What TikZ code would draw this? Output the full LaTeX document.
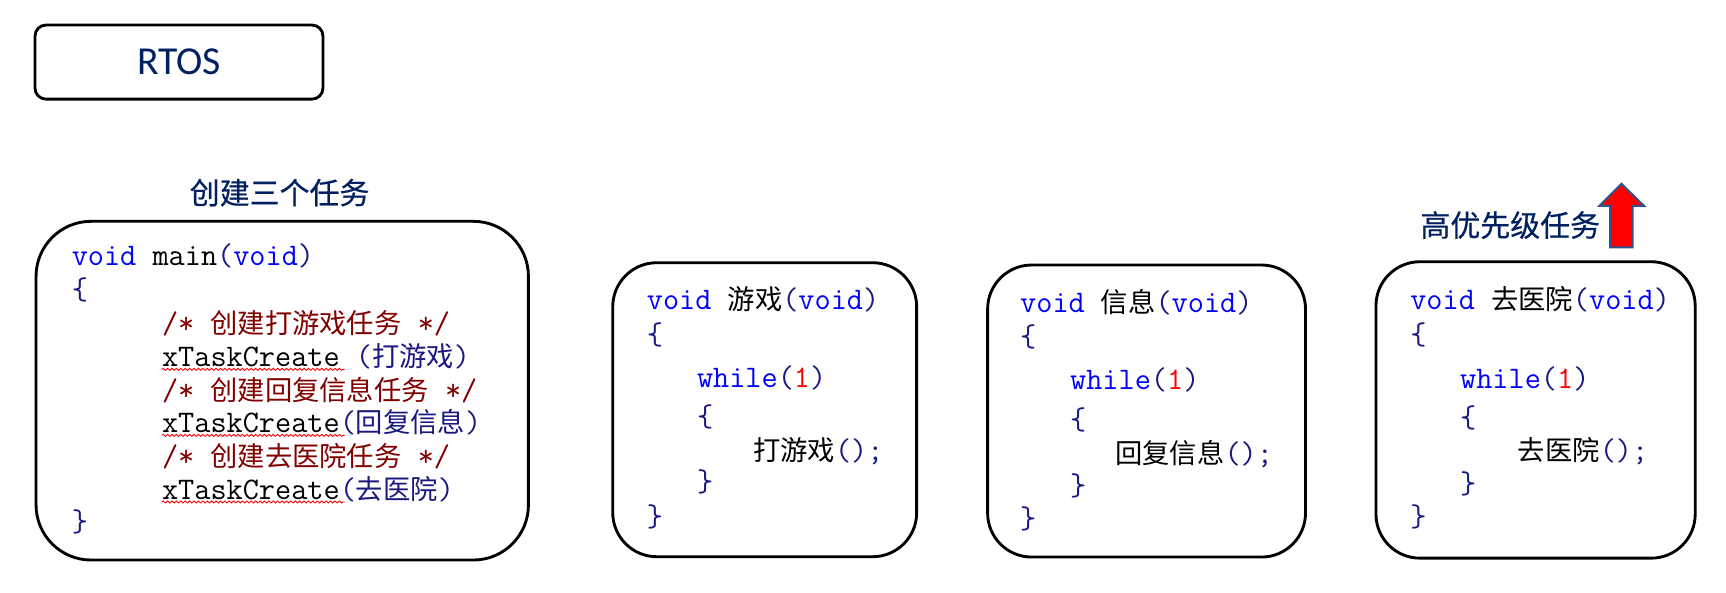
\documentclass[tikz,border=0pt]{standalone}
\usepackage{fontspec}
\newfontfamily\cjk{Noto Sans CJK SC}
\newfontfamily\cjkhead{Noto Sans CJK SC}[FakeBold=0.5]
\newfontfamily\rtosfont{Carlito}
\usetikzlibrary{decorations.pathmorphing}
\definecolor{kwblue}{RGB}{0,0,255}
\definecolor{pnavy}{RGB}{24,24,128}
\definecolor{cmred}{RGB}{128,0,0}
\definecolor{titlenavy}{RGB}{0,32,96}
\definecolor{arrowedge}{RGB}{47,82,143}
\newcommand\codekw[1]{\textcolor{kwblue}{#1}}
\newcommand\codepn[1]{\textcolor{pnavy}{#1}}
\newcommand\codecm[1]{\textcolor{cmred}{#1}}
\newcommand\zh[1]{{\cjk\fontsize{24.8}{30}\selectfont #1}}
\tikzset{
	taskbox/.style={draw, line width=2.6pt, rounded corners=40pt, inner sep=0pt},
	code/.style={anchor=base west, inner sep=0pt, font=\ttfamily\fontsize{28.5}{34}\selectfont},
	heading/.style={text=titlenavy, font=\cjkhead\fontsize{27.2}{32}\selectfont, inner sep=0pt},
	squiggle/.style={red, line width=0.8pt, decorate, decoration={snake, amplitude=0.9pt, segment length=4pt}}
}

\begin{document}
\begin{tikzpicture}[x=1pt, y=-1pt]
		\useasboundingbox (0,0) rectangle (1568,538.7);

		\node (rtos)[draw, line width=2.6pt, rounded corners=10pt, minimum width=261.6, minimum height=67.3, text=titlenavy, font=\rtosfont\fontsize{36}{42}\selectfont] at (162.6,56.4) {RTOS};

		\node (create)[heading] at (254,175) {创建三个任务};
		\node (high)[heading] at (1372,204.5) {高优先级任务};

		\node (mainbox)[taskbox, rounded corners=50pt, minimum width=447.3, minimum height=307.7] at (256.4,354.9) {};
		\node (gamebox)[taskbox, minimum width=276.1, minimum height=267.1] at (694.7,372.2) {};
		\node (msgbox)[taskbox, minimum width=288.8, minimum height=265.3] at (1041.6,373.4) {};
		\node (hospbox)[taskbox, minimum width=290, minimum height=269.3] at (1395,372.4) {};

		\node (m1)[code] at (65,241) {\codekw{void} main\codepn{(}\codekw{void}\codepn{)}};
		\node (m2)[code] at (65,272.5) {\codepn{\{}};
		\node (m3)[code] at (147,303) {\codecm{/* \zh{创建打游戏任务} */}};
		\node (m4)[code] at (147,333) {xTaskCreate \codepn{(\zh{打游戏})}};
		\node (m5)[code] at (147,363.5) {\codecm{/* \zh{创建回复信息任务} */}};
		\node (m6)[code] at (147,393) {xTaskCreate\codepn{(\zh{回复信息})}};
		\node (m7)[code] at (147,424) {\codecm{/* \zh{创建去医院任务} */}};
		\node (m8)[code] at (147,453.5) {xTaskCreate\codepn{(\zh{去医院})}};
		\node (m9)[code] at (65,483) {\codepn{\}}};

		\draw [squiggle]([yshift=-2.5pt]m4.base west) -- ++(166,0);
		\draw [squiggle]([yshift=-2.5pt]m6.base west) -- ++(166,0);
		\draw [squiggle]([yshift=-2.5pt]m8.base west) -- ++(166,0);

		\node (g1)[code] at (587.5,281.6) {\codekw{void} \zh{游戏}\codepn{(}\codekw{void}\codepn{)}};
		\node (g2)[code] at (587.5,313.4) {\codepn{\{}};
		\node (g3)[code] at (633,352) {\codekw{while}\codepn{(}\textcolor{red}{1}\codepn{)}};
		\node (g4)[code] at (633,387.6) {\codepn{\{}};
		\node (g5)[code] at (684,418) {\zh{打游戏}\codepn{();}};
		\node (g6)[code] at (633,446.6) {\codepn{\}}};
		\node (g7)[code] at (587.5,478.4) {\codepn{\}}};

		\node (s1)[code] at (926.6,284) {\codekw{void} \zh{信息}\codepn{(}\codekw{void}\codepn{)}};
		\node (s2)[code] at (926.6,315) {\codepn{\{}};
		\node (s3)[code] at (972,353.7) {\codekw{while}\codepn{(}\textcolor{red}{1}\codepn{)}};
		\node (s4)[code] at (972,390) {\codepn{\{}};
		\node (s5)[code] at (1013,421) {\zh{回复信息}\codepn{();}};
		\node (s6)[code] at (972,449.7) {\codepn{\}}};
		\node (s7)[code] at (926.6,480) {\codepn{\}}};

		\node (h1)[code] at (1281,281) {\codekw{void} \zh{去医院}\codepn{(}\codekw{void}\codepn{)}};
		\node (h2)[code] at (1281,313.4) {\codepn{\{}};
		\node (h3)[code] at (1326.3,352.8) {\codekw{while}\codepn{(}\textcolor{red}{1}\codepn{)}};
		\node (h4)[code] at (1326.3,388.5) {\codepn{\{}};
		\node (h5)[code] at (1378.7,418.5) {\zh{去医院}\codepn{();}};
		\node (h6)[code] at (1326.3,448.2) {\codepn{\}}};
		\node (h7)[code] at (1281,478.4) {\codepn{\}}};

		\draw [fill=red, draw=arrowedge, line width=1.8pt](1473,167) -- (1493.5,187) -- (1483.2,187) -- (1483.2,224.7) -- (1462.6,224.7) -- (1462.6,187) -- (1452.9,187) -- cycle;
	\end{tikzpicture}
\end{document}
